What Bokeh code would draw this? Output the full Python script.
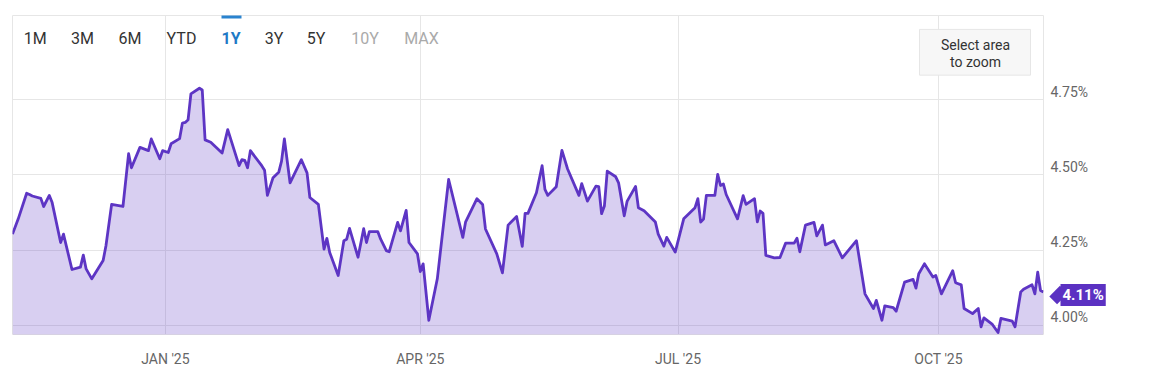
import pandas as pd
from bokeh.plotting import figure
from bokeh.models import (FixedTicker, Label, BoxAnnotation, Range1d)
from bokeh.embed import file_html
from bokeh.resources import INLINE

# ---------------- data ----------------
dates = [
    "2024-11-08", "2024-11-10", "2024-11-13", "2024-11-14", "2024-11-15", "2024-11-18",
    "2024-11-19", "2024-11-21", "2024-11-22", "2024-11-25", "2024-11-26", "2024-11-29",
    "2024-12-02", "2024-12-03", "2024-12-04", "2024-12-06", "2024-12-10", "2024-12-11",
    "2024-12-13", "2024-12-17", "2024-12-19", "2024-12-20", "2024-12-23", "2024-12-26",
    "2024-12-27", "2024-12-30", "2024-12-31", "2025-01-02", "2025-01-03", "2025-01-06",
    "2025-01-07", "2025-01-08", "2025-01-09", "2025-01-10", "2025-01-13", "2025-01-14",
    "2025-01-15", "2025-01-17", "2025-01-21", "2025-01-23", "2025-01-27", "2025-01-28",
    "2025-01-29", "2025-01-30", "2025-01-31", "2025-02-04", "2025-02-05", "2025-02-06",
    "2025-02-08", "2025-02-10", "2025-02-11", "2025-02-12", "2025-02-14", "2025-02-18",
    "2025-02-20", "2025-02-21", "2025-02-24", "2025-02-26", "2025-02-27", "2025-02-28",
    "2025-03-03", "2025-03-05", "2025-03-06", "2025-03-07", "2025-03-10", "2025-03-12",
    "2025-03-13", "2025-03-14", "2025-03-17", "2025-03-18", "2025-03-20", "2025-03-21",
    "2025-03-24", "2025-03-25", "2025-03-27", "2025-03-28", "2025-03-31", "2025-04-01",
    "2025-04-02", "2025-04-04", "2025-04-07", "2025-04-11", "2025-04-16", "2025-04-17",
    "2025-04-21", "2025-04-23", "2025-04-24", "2025-04-28", "2025-04-30", "2025-05-02",
    "2025-05-05", "2025-05-07", "2025-05-08", "2025-05-09", "2025-05-12", "2025-05-14",
    "2025-05-15", "2025-05-16", "2025-05-19", "2025-05-21", "2025-05-23", "2025-05-27",
    "2025-05-28", "2025-05-30", "2025-06-02", "2025-06-03", "2025-06-04", "2025-06-05",
    "2025-06-06", "2025-06-09", "2025-06-10", "2025-06-12", "2025-06-13", "2025-06-16",
    "2025-06-17", "2025-06-19", "2025-06-23", "2025-06-24", "2025-06-26", "2025-06-27",
    "2025-06-30", "2025-07-03", "2025-07-07", "2025-07-08", "2025-07-09", "2025-07-10",
    "2025-07-11", "2025-07-14", "2025-07-15", "2025-07-16", "2025-07-17", "2025-07-18",
    "2025-07-22", "2025-07-24", "2025-07-25", "2025-07-28", "2025-07-29", "2025-07-30",
    "2025-07-31", "2025-08-01", "2025-08-04", "2025-08-06", "2025-08-08", "2025-08-11",
    "2025-08-12", "2025-08-13", "2025-08-15", "2025-08-18", "2025-08-19", "2025-08-21",
    "2025-08-22", "2025-08-25", "2025-08-28", "2025-09-02", "2025-09-05", "2025-09-08",
    "2025-09-09", "2025-09-11", "2025-09-12", "2025-09-15", "2025-09-16", "2025-09-19",
    "2025-09-22", "2025-09-23", "2025-09-24", "2025-09-26", "2025-09-29", "2025-09-30",
    "2025-10-02", "2025-10-06", "2025-10-07", "2025-10-09", "2025-10-10", "2025-10-13",
    "2025-10-15", "2025-10-16", "2025-10-17", "2025-10-20", "2025-10-22", "2025-10-23",
    "2025-10-27", "2025-10-28", "2025-10-30", "2025-10-31", "2025-11-03", "2025-11-04",
    "2025-11-05", "2025-11-06", "2025-11-07",
]
values = [
    4.303, 4.353, 4.439, 4.435, 4.430, 4.422,
    4.395, 4.432, 4.408, 4.275, 4.303, 4.185,
    4.193, 4.233, 4.187, 4.154, 4.215, 4.264,
    4.402, 4.395, 4.571, 4.524, 4.592, 4.581,
    4.620, 4.554, 4.581, 4.575, 4.604, 4.621,
    4.673, 4.675, 4.684, 4.770, 4.789, 4.783,
    4.617, 4.609, 4.573, 4.651, 4.531, 4.551,
    4.549, 4.524, 4.581, 4.531, 4.516, 4.432,
    4.491, 4.509, 4.546, 4.620, 4.474, 4.551,
    4.507, 4.425, 4.402, 4.253, 4.289, 4.242,
    4.165, 4.281, 4.286, 4.322, 4.226, 4.321,
    4.275, 4.311, 4.311, 4.286, 4.248, 4.244,
    4.342, 4.314, 4.382, 4.275, 4.237, 4.178,
    4.204, 4.016, 4.154, 4.485, 4.292, 4.344,
    4.421, 4.402, 4.320, 4.237, 4.174, 4.333,
    4.362, 4.262, 4.372, 4.372, 4.441, 4.531,
    4.452, 4.432, 4.461, 4.582, 4.520, 4.432,
    4.471, 4.413, 4.463, 4.461, 4.371, 4.397,
    4.513, 4.494, 4.474, 4.364, 4.412, 4.462,
    4.391, 4.381, 4.343, 4.303, 4.263, 4.292,
    4.243, 4.354, 4.391, 4.421, 4.343, 4.353,
    4.432, 4.432, 4.502, 4.465, 4.470, 4.435,
    4.354, 4.431, 4.402, 4.421, 4.344, 4.380,
    4.372, 4.232, 4.224, 4.225, 4.273, 4.273,
    4.289, 4.244, 4.333, 4.342, 4.297, 4.333,
    4.267, 4.281, 4.224, 4.281, 4.104, 4.055,
    4.082, 4.016, 4.064, 4.058, 4.046, 4.143,
    4.152, 4.123, 4.171, 4.204, 4.160, 4.165,
    4.104, 4.181, 4.141, 4.134, 4.055, 4.038,
    4.055, 3.994, 4.024, 4.002, 3.975, 4.022,
    4.013, 3.994, 4.110, 4.119, 4.134, 4.104,
    4.176, 4.115, 4.110,
]
last_value = 4.11
last_label = "4.11%"

x_tick_dates = ["2025-01-01", "2025-04-01", "2025-07-01", "2025-10-01"]
x_tick_labels = ["JAN '25", "APR '25", "JUL '25", "OCT '25"]
y_ticks = [4.00, 4.25, 4.50, 4.75]

range_buttons = ["1M", "3M", "6M", "YTD", "1Y", "3Y", "5Y", "10Y", "MAX"]
active_button = "1Y"
disabled_buttons = ["10Y", "MAX"]

# ---------------- layout / style ----------------
W, H = 1153, 369
FL, FT, FR, FB = 12, 15, 1043, 336          # frame edges in pixels
LINE = "#5d35c4"
BADGE = "#5b31c2"
GRID = "#e6e6e6"
FONT = "Roboto"

x_start = pd.Timestamp("2024-11-08")
x_end = pd.Timestamp("2025-11-07 01:00")
y_start, y_end = 3.9685, 5.0314
PX_PER_UNIT = (FB - FT) / (y_end - y_start)
LABEL_LIFT = 8.5 / PX_PER_UNIT               # y labels sit above their grid lines


def ms(ts):
    return pd.Timestamp(ts).value / 1e6


def px_x(px):
    return ms(x_start) + (px - FL) / (FR - FL) * (ms(x_end) - ms(x_start))


def px_y(py):
    return y_end - (py - FT) / (FB - FT) * (y_end - y_start)


x = pd.to_datetime(dates)

p = figure(width=W, height=H, x_axis_type="datetime", y_axis_location="right",
           output_backend="svg", toolbar_location=None,
           x_range=Range1d(ms(x_start), ms(x_end)), y_range=Range1d(y_start, y_end),
           min_border_left=FL, min_border_top=FT,
           min_border_right=W - FR, min_border_bottom=H - FB)
p.background_fill_color = "white"
p.border_fill_color = "white"
p.outline_line_color = GRID

p.varea(x=x, y1=y_start - 0.5, y2=values, fill_color=LINE, fill_alpha=0.24)
p.line(x=x, y=values, line_color=LINE, line_width=2.8, line_join="round")

# axes
tick_ms = [ms(d) for d in x_tick_dates]
p.xaxis.ticker = FixedTicker(ticks=tick_ms)
p.xaxis.major_label_overrides = {t: lab for t, lab in zip(tick_ms, x_tick_labels)}
label_ticks = [v + LABEL_LIFT for v in y_ticks]
p.yaxis.ticker = FixedTicker(ticks=label_ticks)
p.yaxis.major_label_overrides = {t: "%.2f%%" % v for t, v in zip(label_ticks, y_ticks)}
p.ygrid.ticker = FixedTicker(ticks=y_ticks)
p.xgrid.ticker = FixedTicker(ticks=tick_ms)
for ax in (p.xaxis, p.yaxis):
    ax.axis_line_color = None
    ax.major_tick_line_color = None
    ax.minor_tick_line_color = None
    ax.major_tick_out = 0
    ax.major_tick_in = 0
    ax.minor_tick_out = 0
    ax.minor_tick_in = 0
    ax.major_label_text_font = FONT
    ax.major_label_text_font_size = "14px"
    ax.major_label_text_color = "#666666"
p.xaxis.major_label_standoff = 16
p.yaxis.major_label_standoff = 7

p.xgrid.grid_line_color = GRID
p.ygrid.grid_line_color = GRID
p.xgrid.grid_line_width = 1
p.ygrid.grid_line_width = 1

# range selector buttons
button_px = [34.7, 82, 129.5, 181, 230.5, 273.5, 315.5, 364.5, 421]
for name, bx in zip(range_buttons, button_px):
    color = "#333333"
    style = "normal"
    if name == active_button:
        color, style = "#1f7ac6", "bold"
    elif name in disabled_buttons:
        color = "#aaaaaa"
    p.add_layout(Label(x=px_x(bx), y=px_y(38), text=name, text_align="center",
                       text_baseline="middle", text_font=FONT, text_font_size="16px",
                       text_color=color, text_font_style=style))
p.add_layout(BoxAnnotation(left=px_x(221), right=px_x(241), top=px_y(14), bottom=px_y(18),
                           fill_color="#2a83cf", fill_alpha=1, line_color=None))

# "Select area to zoom" box
p.add_layout(BoxAnnotation(left=px_x(919), right=px_x(1030), top=px_y(29), bottom=px_y(75),
                           fill_color="#f7f7f7", fill_alpha=1, line_color="#e6e6e6",
                           line_alpha=1, line_width=1))
for txt, ty in (("Select area", 45), ("to zoom", 62)):
    p.add_layout(Label(x=px_x(975), y=px_y(ty), text=txt, text_align="center",
                       text_baseline="middle", text_font=FONT, text_font_size="14px",
                       text_color="#333333"))

# last value badge (in the right side panel so the frame does not clip it)
# pointer: a small rotated square whose right half hides under the badge
p.add_layout(Label(x=px_x(1058), y=last_value, y_offset=-3, text="00", angle=45,
                   angle_units="deg", text_align="center", text_baseline="middle",
                   text_font=FONT, text_font_size="8px", text_color=BADGE,
                   background_fill_color=BADGE, background_fill_alpha=1, padding=3), "right")
p.add_layout(Label(x=px_x(1060), y=last_value, y_offset=-3, text=last_label,
                   text_align="left", text_baseline="middle", text_font=FONT,
                   text_font_size="15px", text_font_style="bold", text_color="white",
                   background_fill_color=BADGE, background_fill_alpha=1, padding=2), "right")

open("out.html", "w").write(file_html(p, INLINE))
